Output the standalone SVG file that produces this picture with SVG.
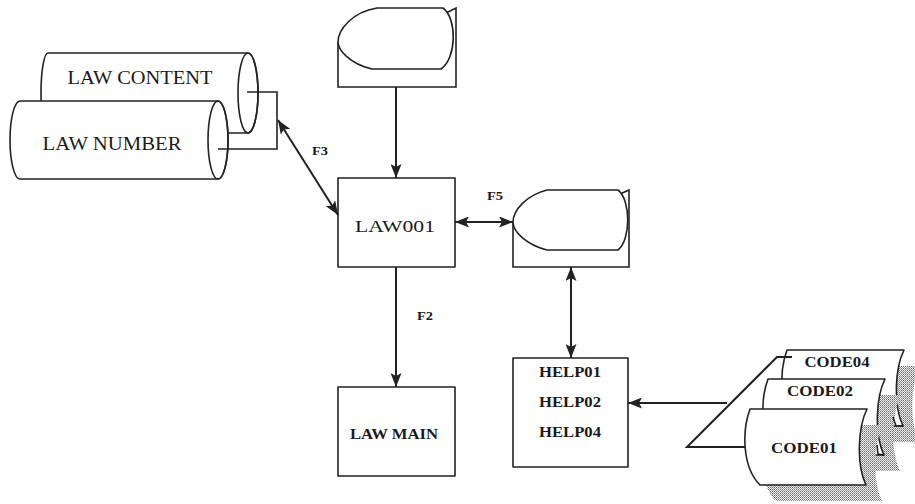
<svg xmlns="http://www.w3.org/2000/svg" width="915" height="504" viewBox="0 0 915 504">
<style>
.sh{fill:#fff;stroke:#222;stroke-width:1.6;stroke-linejoin:round}
.ln{fill:none;stroke:#222;stroke-width:1.6}
.cn{fill:none;stroke:#222;stroke-width:2}
.t{font-family:"Liberation Serif","Times New Roman",serif;fill:#1a1a1a;text-anchor:middle}
.b{font-weight:bold}
.sd{fill:url(#dots);stroke:none}
</style>
<defs>
<pattern id="dots" width="2" height="2" patternUnits="userSpaceOnUse">
<rect width="2" height="2" fill="#f4f4f4"/>
<rect width="1" height="1" fill="#666"/>
<rect x="1" y="1" width="1" height="1" fill="#999"/>
</pattern>
<marker id="ah" viewBox="0 0 14 11" refX="14" refY="5.5" markerWidth="14" markerHeight="11" markerUnits="userSpaceOnUse" orient="auto-start-reverse">
<path d="M0,0 L14,5.5 L0,11 L3,5.5 Z" fill="#222"/>
</marker>
<path id="doc" d="M0,0 L117,0 C108,18 106,55 116,76 L10,76 C-8,58 -8,22 0,0 Z"/>
</defs>
<rect width="915" height="504" fill="#fff"/>

<g id="law-content">
<path class="sh" d="M48,53 L248,53 A10,40 0 0 1 248,133 L48,133 A7,40 0 0 1 48,53 Z"/>
<ellipse class="ln" cx="248" cy="93" rx="10" ry="40"/>
<text class="t" x="140" y="84" font-size="18" textLength="145" lengthAdjust="spacingAndGlyphs">LAW CONTENT</text>
</g>
<g id="law-number">
<path class="sh" d="M20,101 L218,101 A10,39 0 0 1 218,179 L20,179 A10,39 0 0 1 20,101 Z"/>
<ellipse class="ln" cx="218" cy="140" rx="10" ry="39"/>
<text class="t" x="112" y="150" font-size="18" textLength="139" lengthAdjust="spacingAndGlyphs">LAW NUMBER</text>
</g>

<g id="display-top">
<path class="ln" d="M446,13 L456,8 L456,87 L338,87 L338,42"/>
<path class="sh" d="M377,8 L443,8 C457,18 457,58 441,69 L372,69 C350,64 338,50 338,42 C338,30 352,12 377,8 Z"/>
</g>

<g id="law001">
<rect class="sh" x="338" y="178" width="117" height="89"/>
<text class="t" x="395" y="232" font-size="17" textLength="80" lengthAdjust="spacingAndGlyphs">LAW001</text>
</g>

<g id="law-main">
<rect class="sh" x="338" y="387" width="117" height="89"/>
<text class="t b" x="394" y="439" font-size="14" textLength="88" lengthAdjust="spacingAndGlyphs">LAW MAIN</text>
</g>

<g id="display-right">
<path class="ln" d="M620,194 L629,190 L629,267 L513,267 L513,222"/>
<path class="sh" d="M547,190 L618,190 C631,200 631,240 618,250 L547,250 C527,245 513,232 513,222 C513,210 527,195 547,190 Z"/>
</g>

<g id="help">
<rect class="sh" x="513" y="358" width="115" height="109"/>
<text class="t b" x="570" y="377" font-size="14" textLength="62" lengthAdjust="spacingAndGlyphs">HELP01</text>
<text class="t b" x="570" y="407" font-size="14" textLength="62" lengthAdjust="spacingAndGlyphs">HELP02</text>
<text class="t b" x="570" y="437" font-size="14" textLength="62" lengthAdjust="spacingAndGlyphs">HELP04</text>
</g>

<g id="code04">
<use href="#doc" class="sd" transform="translate(803,366)"/>
<use href="#doc" class="sh" transform="translate(787,350)"/>
<text class="t b" x="837" y="367" font-size="14" textLength="65" lengthAdjust="spacingAndGlyphs">CODE04</text>
</g>
<g id="code02">
<use href="#doc" class="sd" transform="translate(784,395)"/>
<use href="#doc" class="sh" transform="translate(768,379)"/>
<text class="t b" x="820" y="396" font-size="14" textLength="66" lengthAdjust="spacingAndGlyphs">CODE02</text>
<path class="ln" d="M893,417 L896,426 L903,426"/>
</g>
<g id="code01">
<use href="#doc" class="sd" transform="translate(766,425)"/>
<use href="#doc" class="sh" transform="translate(750,409)"/>
<text class="t b" x="804" y="453" font-size="14" textLength="66" lengthAdjust="spacingAndGlyphs">CODE01</text>
<path class="ln" d="M877,445 L878,454 L884,455"/>
</g>

<g id="connectors">
<polyline class="ln" points="247,92 277,92 277,149 218,149"/>
<line class="cn" x1="278" y1="120" x2="338" y2="215" stroke-width="2.6" marker-start="url(#ah)" marker-end="url(#ah)"/>
<line class="cn" x1="396" y1="87" x2="396" y2="178" marker-end="url(#ah)"/>
<line class="cn" x1="396" y1="267" x2="396" y2="387" marker-end="url(#ah)"/>
<line class="cn" x1="455" y1="222" x2="513" y2="222" marker-start="url(#ah)" marker-end="url(#ah)"/>
<line class="cn" x1="571" y1="267" x2="571" y2="358" marker-start="url(#ah)" marker-end="url(#ah)"/>
<line class="cn" x1="727" y1="403" x2="628" y2="403" marker-end="url(#ah)"/>
<polyline class="cn" points="745,447 687,447 777,357 792,357" stroke-width="2.4"/>
<text class="t b" x="320" y="155" font-size="13" textLength="16" lengthAdjust="spacingAndGlyphs">F3</text>
<text class="t b" x="495" y="200" font-size="13" textLength="16" lengthAdjust="spacingAndGlyphs">F5</text>
<text class="t b" x="425" y="320" font-size="13" textLength="16" lengthAdjust="spacingAndGlyphs">F2</text>
</g>
</svg>
